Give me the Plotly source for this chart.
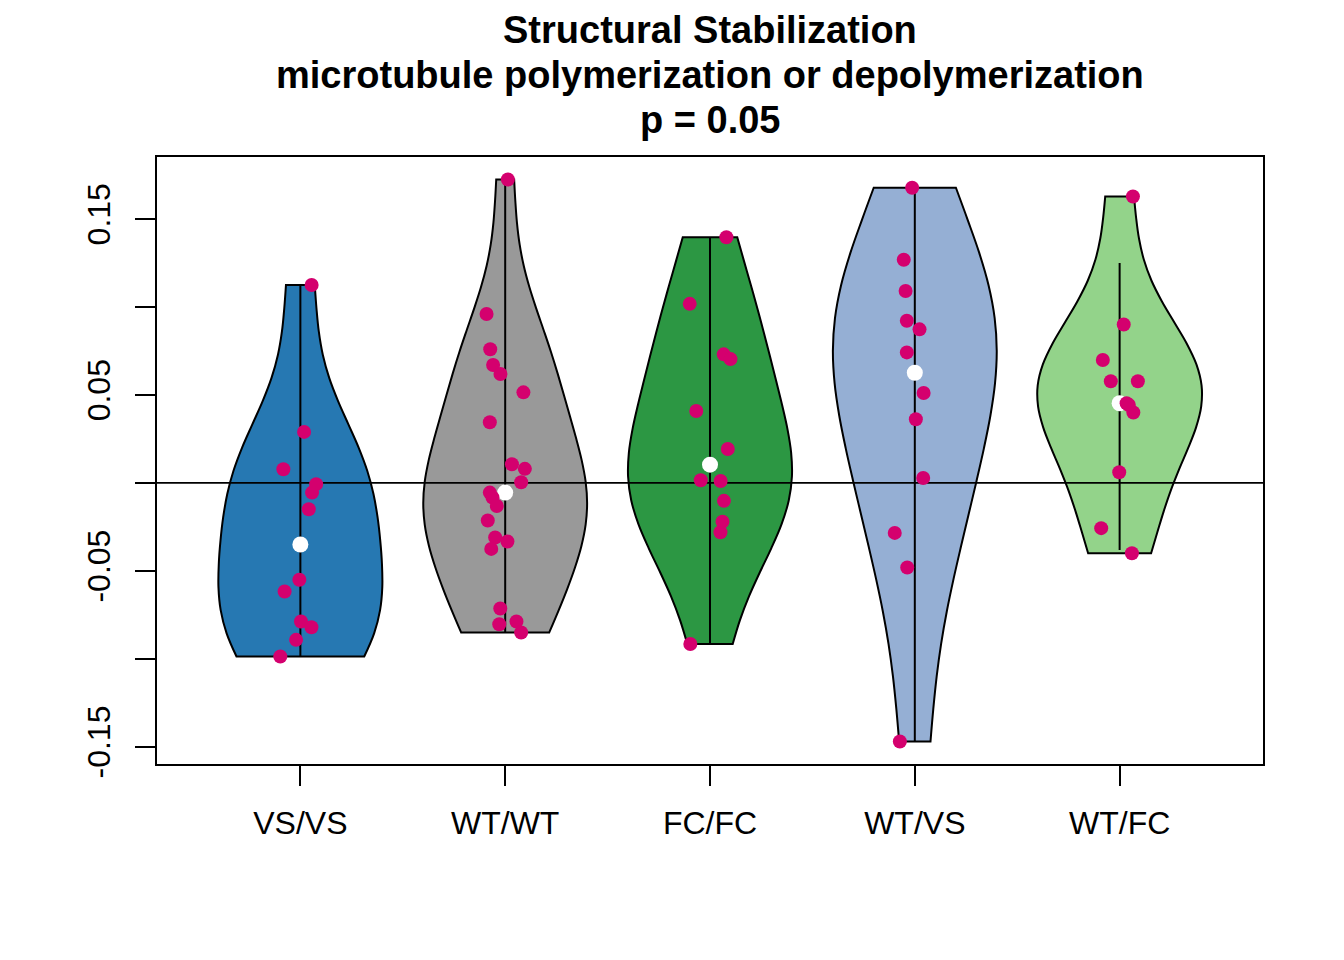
import numpy as np
import plotly.graph_objects as go

# group labels and fill colours
groups = ["VS/VS", "WT/WT", "FC/FC", "WT/VS", "WT/FC"]
fills = ["#2678B2", "#999999", "#2C9743", "#95AFD4", "#93D38A"]

vs_vs = [0.1125, 0.029, 0.0078, -0.0007, -0.0055, -0.015, -0.055, -0.0617,
         -0.0788, -0.082, -0.0892, -0.0987]
wt_wt = [0.1725, 0.096, 0.076, 0.067, 0.0619, 0.0515, 0.0345, 0.0106, 0.008,
         0.0004, -0.0055, -0.0083, -0.0131, -0.0214, -0.031, -0.0333, -0.0375,
         -0.0714, -0.0803, -0.0788, -0.085]
fc_fc = [0.1397, 0.1018, 0.0731, 0.0704, 0.0409, 0.0193, 0.0015, 0.0011,
         -0.0102, -0.022, -0.028, -0.0916]
wt_vs = [0.1678, 0.1269, 0.1091, 0.0922, 0.0873, 0.0742, 0.0511, 0.0362,
         0.0028, -0.0284, -0.0481, -0.147]
wt_fc = [0.1628, 0.0901, 0.0699, 0.0578, 0.0578, 0.0453, 0.0400, 0.0061,
         -0.0257, -0.040, 0.0443]

# horizontal jitter of the stripchart points (x units)
jit_vs_vs = [0.055, 0.018, -0.083, 0.077, 0.057, 0.041, -0.005, -0.077, 0.003,
             0.054, -0.021, -0.098]
jit_wt_wt = [0.013, -0.091, -0.073, -0.059, -0.023, 0.089, -0.075, 0.033, 0.096,
             0.078, -0.075, -0.062, -0.041, -0.085, -0.049, 0.011, -0.068,
             -0.024, -0.029, 0.055, 0.078]
jit_fc_fc = [0.080, -0.099, 0.067, 0.100, -0.067, 0.087, -0.045, 0.052, 0.068,
             0.061, 0.051, -0.096]
jit_wt_vs = [-0.013, -0.054, -0.045, -0.039, 0.023, -0.039, 0.043, 0.005, 0.041,
             -0.098, -0.037, -0.073]
jit_wt_fc = [0.065, 0.020, -0.082, -0.043, 0.089, 0.034, 0.067, -0.002, -0.090,
             0.060, 0.045]

ytick_vals = [-0.15, -0.10, -0.05, 0.0, 0.05, 0.10, 0.15]
ytick_text = ["-0.15", "", "-0.05", "", "0.05", "", "0.15"]

title_lines = ["Structural Stabilization",
               "microtubule polymerization or depolymerization",
               "p = 0.05"]

data = [vs_vs, wt_wt, fc_fc, wt_vs, wt_fc]
jitter = [jit_vs_vs, jit_wt_wt, jit_fc_fc, jit_wt_vs, jit_wt_fc]
positions = list(range(1, len(groups) + 1))
FONT = "Liberation Sans, Arial, sans-serif"
POINT_COL = "#D4006E"

fig = go.Figure()

for pos, vals, col in zip(positions, data, fills):
    v = np.array(vals)
    # sm::hnorm bandwidth, like vioplot
    h = np.std(v, ddof=1) * (4 / (3 * len(v))) ** 0.2
    q1, med, q3 = np.percentile(v, [25, 50, 75])
    iqr = q3 - q1
    lo = max(q1 - 1.5 * iqr, v.min())
    hi = min(q3 + 1.5 * iqr, v.max())

    fig.add_trace(go.Violin(
        x=[pos] * len(v), y=v, spanmode="hard", bandwidth=h,
        width=0.8, scalemode="width", fillcolor=col, opacity=1,
        line=dict(color="black", width=2), points=False,
        box_visible=False, meanline_visible=False, hoverinfo="skip",
    ))
    fig.add_trace(go.Scatter(
        x=[pos, pos], y=[lo, hi], mode="lines",
        line=dict(color="black", width=2), hoverinfo="skip",
    ))
    fig.add_trace(go.Bar(
        x=[pos], y=[q3 - q1], base=[q1], width=0.055,
        marker=dict(color="black", line=dict(width=0)), hoverinfo="skip",
    ))
    fig.add_trace(go.Scatter(
        x=[pos], y=[med], mode="markers",
        marker=dict(color="white", size=16), hoverinfo="skip",
    ))

# axis limits the R way: +4% on each side
xlo, xhi = 0.5, len(groups) + 0.5
xr = [xlo - 0.04 * (xhi - xlo), xhi + 0.04 * (xhi - xlo)]
allv = np.concatenate([np.array(d) for d in data])
ylo, yhi = allv.min(), allv.max()
yr = [ylo - 0.04 * (yhi - ylo), yhi + 0.04 * (yhi - ylo)]

# abline(h = 0)
fig.add_trace(go.Scatter(
    x=xr, y=[0, 0], mode="lines",
    line=dict(color="black", width=1.8), hoverinfo="skip",
))

for pos, vals, jit in zip(positions, data, jitter):
    fig.add_trace(go.Scatter(
        x=[pos + j for j in jit], y=vals, mode="markers",
        marker=dict(color=POINT_COL, size=14), hoverinfo="skip",
    ))

# three title lines, spaced so none is clipped or overlapping
title_y = [1.2092, 1.1351, 1.0610]
for txt, ty in zip(title_lines, title_y):
    fig.add_annotation(
        text=f"<b>{txt}</b>", x=0.5, y=ty, xref="paper", yref="paper",
        showarrow=False, xanchor="center", yanchor="middle",
        font=dict(family=FONT, size=38, color="black"),
    )

# page body adds 8px, so margins are 8px less than the target frame
fig.update_layout(
    width=1344, height=960,
    margin=dict(l=149, r=89, t=149, b=204),
    paper_bgcolor="white", plot_bgcolor="white",
    showlegend=False, violinmode="overlay", barmode="overlay",
    font=dict(family=FONT, size=32, color="black"),
)
fig.update_xaxes(
    range=xr, tickvals=positions, ticktext=groups,
    showgrid=False, zeroline=False,
    showline=True, mirror=True, linecolor="black", linewidth=2,
    ticks="outside", ticklen=20, tickwidth=2, tickcolor="black",
    tickfont=dict(family=FONT, size=32, color="black"),
    ticklabelstandoff=10,
)
fig.update_yaxes(
    range=yr, tickvals=ytick_vals, ticktext=ytick_text,
    showgrid=False, zeroline=False,
    showline=True, mirror=True, linecolor="black", linewidth=2,
    ticks="outside", ticklen=20, tickwidth=2, tickcolor="black",
    tickangle=-90, tickfont=dict(family=FONT, size=32, color="black"),
    ticklabelstandoff=12,
)

fig.write_html("out.html")
